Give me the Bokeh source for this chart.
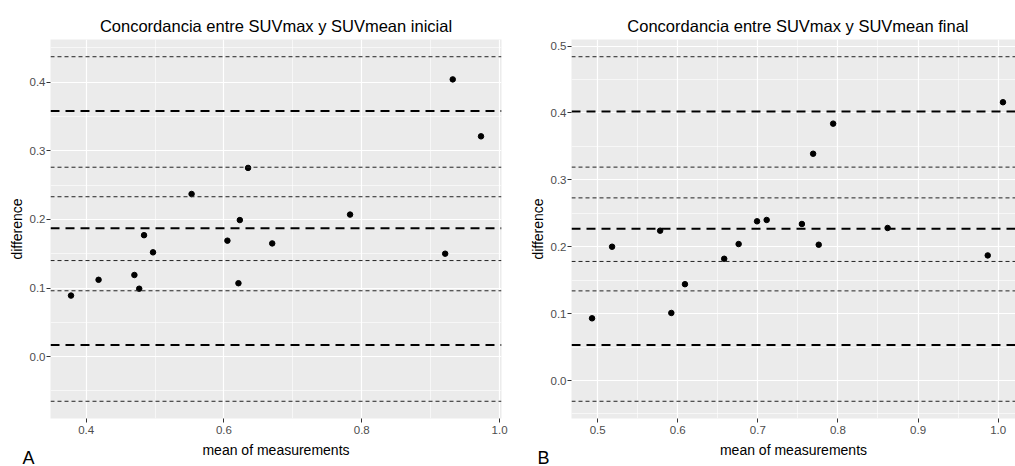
from bokeh.plotting import figure
from bokeh.layouts import row
from bokeh.models import Span, Label, FixedTicker, PrintfTickFormatter, Range1d
from bokeh.embed import file_html
from bokeh.resources import INLINE

# Bland-Altman agreement, SUVmax vs SUVmean -- initial study
ini_mean = [0.378, 0.418, 0.470, 0.477, 0.484, 0.497, 0.553, 0.605,
            0.621, 0.623, 0.635, 0.670, 0.783, 0.921, 0.932, 0.973]
ini_diff = [0.089, 0.112, 0.119, 0.099, 0.177, 0.152, 0.237, 0.169,
            0.107, 0.199, 0.275, 0.165, 0.207, 0.150, 0.404, 0.321]
ini_limits = [0.017, 0.187, 0.358]          # lower LoA, bias, upper LoA
ini_ci = [-0.065, 0.096, 0.140, 0.233, 0.276, 0.437]  # 95% CI of each

# Bland-Altman agreement -- final study
fin_mean = [0.493, 0.518, 0.578, 0.592, 0.609, 0.658, 0.676, 0.699,
            0.711, 0.755, 0.769, 0.776, 0.794, 0.862, 0.987, 1.006]
fin_diff = [0.093, 0.200, 0.224, 0.101, 0.144, 0.182, 0.204, 0.238,
            0.240, 0.234, 0.339, 0.203, 0.384, 0.228, 0.187, 0.416]
fin_limits = [0.053, 0.227, 0.402]
fin_ci = [-0.031, 0.134, 0.178, 0.273, 0.319, 0.484]

ini_xticks = [0.4, 0.6, 0.8, 1.0]
ini_xminor = [0.3, 0.5, 0.7, 0.9, 1.1]
ini_yticks = [0.0, 0.1, 0.2, 0.3, 0.4]
fin_xticks = [0.5, 0.6, 0.7, 0.8, 0.9, 1.0]
fin_xminor = [0.45, 0.55, 0.65, 0.75, 0.85, 0.95, 1.05]
fin_yticks = [0.0, 0.1, 0.2, 0.3, 0.4, 0.5]
y_minor = [-0.05, 0.05, 0.15, 0.25, 0.35, 0.45, 0.55]

FONT = "Liberation Sans"


def expand(lo, hi, f=0.05):
    d = (hi - lo) * f
    return lo - d, hi + d


def panel(title, means, diffs, limits, cis, xticks, xminor, yticks, tag,
          width, left, right, top, bottom, visible=1.0, title_align="center",
          title_offset=0):
    x0, x1 = expand(min(means), max(means))
    x1 = x0 + (x1 - x0) * visible
    y0, y1 = expand(min(diffs + cis + limits), max(diffs + cis + limits))
    p = figure(width=width, height=466, output_backend="svg",
               toolbar_location=None, x_range=Range1d(x0, x1),
               y_range=Range1d(y0, y1),
               min_border_left=left, min_border_right=right,
               min_border_top=top, min_border_bottom=bottom)
    p.background_fill_color = "#EBEBEB"
    p.border_fill_color = "white"
    p.outline_line_color = None

    p.title.text = title
    p.title.align = title_align
    p.title.offset = title_offset
    p.title.text_font = FONT
    p.title.text_font_size = "16.5px"
    p.title.text_font_style = "normal"
    p.title.text_color = "black"
    p.title.standoff = 10

    p.xaxis.ticker = FixedTicker(ticks=xticks, minor_ticks=xminor)
    p.yaxis.ticker = FixedTicker(ticks=yticks, minor_ticks=y_minor)
    for ax in (p.xaxis, p.yaxis):
        ax.formatter = PrintfTickFormatter(format="%.1f")
        ax.axis_line_color = None
        ax.minor_tick_line_color = None
        ax.major_tick_line_color = "#333333"
        ax.major_tick_out = 4
        ax.major_tick_in = 0
        ax.major_label_text_font = FONT
        ax.major_label_text_font_size = "11.5px"
        ax.major_label_text_color = "#4D4D4D"
        ax.axis_label_text_font = FONT
        ax.axis_label_text_font_size = "14px"
        ax.axis_label_text_font_style = "normal"
        ax.axis_label_text_color = "black"
    p.xaxis.major_label_standoff = 3
    p.xaxis.axis_label_standoff = 5
    p.yaxis.major_label_standoff = 1
    p.yaxis.axis_label_standoff = 2
    p.xaxis.axis_label = "mean of measurements"
    p.yaxis.axis_label = "difference"

    for g in (p.xgrid, p.ygrid):
        g.grid_line_color = "white"
        g.grid_line_width = 1.2
        g.minor_grid_line_color = "white"
        g.minor_grid_line_width = 0.6

    p.scatter(means, diffs, size=5.5, color="black")

    for v in cis:
        p.add_layout(Span(location=v, dimension="width", line_color="#222222",
                          line_width=1, line_dash="4 3"))
    for v in limits:
        p.add_layout(Span(location=v, dimension="width", line_color="black",
                          line_width=2, line_dash="9 6"))

    # panel letter in the bottom-left corner, in canvas pixels
    text, lx, ly, side = tag
    p.add_layout(Label(x=lx, y=ly, x_units="canvas", y_units="canvas",
                       text=text, text_font=FONT, text_font_size="18px",
                       text_color="black", text_baseline="alphabetic"),
                 side)
    return p


p1 = panel("Concordancia entre SUVmax y SUVmean inicial",
           ini_mean, ini_diff, ini_limits, ini_ci,
           ini_xticks, ini_xminor, ini_yticks, ("A", 22, 457, "right"),
           width=513, left=50, right=12, top=39, bottom=46)
p2 = panel("Concordancia entre SUVmax y SUVmean final",
           fin_mean, fin_diff, fin_limits, fin_ci,
           fin_xticks, fin_xminor, fin_yticks, ("B", 24, 457, "left"),
           width=502, left=58, right=0, top=37, bottom=48,
           visible=444 / 452, title_align="right", title_offset=47)

layout = row(p1, p2)
open("out.html", "w").write(file_html(layout, INLINE))
